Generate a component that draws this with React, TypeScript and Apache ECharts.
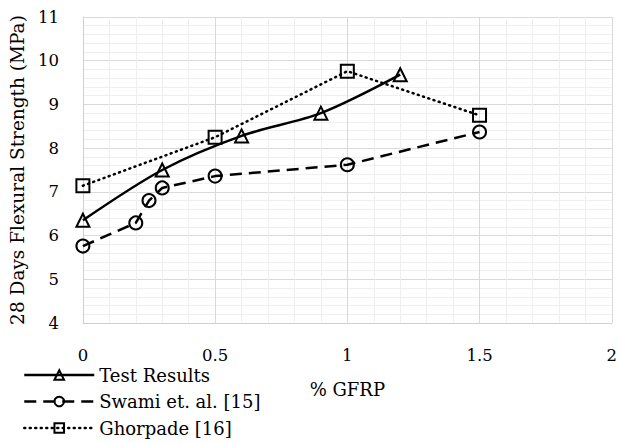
import React, { useEffect, useRef } from "react";
import * as echarts from "echarts";

const testX = [0, 0.3, 0.6, 0.9, 1.2];
const testY = [6.35, 7.5, 8.28, 8.8, 9.68];
const swamiX = [0, 0.2, 0.25, 0.3, 0.5, 1.0, 1.5];
const swamiY = [5.76, 6.29, 6.8, 7.09, 7.36, 7.62, 8.37];
const ghorX = [0, 0.5, 1.0, 1.5];
const ghorY = [7.14, 8.25, 9.76, 8.75];
const xTicks = ["0", "0.5", "1", "1.5", "2"];
const seriesNames = ["Test Results", "Swami et. al. [15]", "Ghorpade [16]"];

const FONT = "DejaVu Serif";

function pairs(xs: number[], ys: number[]) {
  return xs.map((x, i) => [x, ys[i]]);
}

export default function App() {
  const ref = useRef<HTMLDivElement>(null);
  useEffect(() => {
    if (!ref.current) return;
    const chart = echarts.init(ref.current, undefined, { renderer: "svg" });
    const marker = {
      color: "rgba(0,0,0,0)",
      borderColor: "#000",
      borderWidth: 2,
    };
    const styles = [
      { color: "#000", width: 2.5, type: "solid" },
      { color: "#000", width: 2.5, type: [12, 7] },
      { color: "#000", width: 2.5, type: [1, 4.5], cap: "round" },
    ];
    chart.setOption({
      animation: false,
      grid: { left: 77.5, right: 6, top: 17, bottom: 120 },
      xAxis: {
        type: "value",
        min: 0,
        max: 2,
        interval: 0.5,
        name: "% GFRP",
        nameLocation: "middle",
        nameGap: 57,
        nameTextStyle: { fontFamily: FONT, fontSize: 18, color: "#000" },
        axisLine: { show: true, lineStyle: { color: "#d0d0d0", width: 1 } },
        axisTick: { show: false },
        axisLabel: {
          margin: 24,
          fontFamily: FONT,
          fontSize: 16.5,
          color: "#000",
          formatter: (v: number) => {
            const idx = Math.round(v / 0.5);
            return xTicks[idx] ?? String(v);
          },
        },
        splitLine: { show: true, lineStyle: { color: "#d9d9d9", width: 1 } },
        minorTick: { show: false, splitNumber: 5 },
        minorSplitLine: { show: true, lineStyle: { color: "#efefef", width: 1 } },
      },
      yAxis: {
        type: "value",
        min: 4,
        max: 11,
        interval: 1,
        name: "28 Days Flexural Strength (MPa)",
        nameLocation: "middle",
        nameGap: 42,
        nameTextStyle: { fontFamily: FONT, fontSize: 18.5, color: "#000" },
        axisLine: { show: true, lineStyle: { color: "#d0d0d0", width: 1 } },
        axisTick: { show: false },
        axisLabel: { margin: 24, fontFamily: FONT, fontSize: 16.5, color: "#000" },
        splitLine: { show: true, lineStyle: { color: "#d9d9d9", width: 1 } },
        minorTick: { show: false, splitNumber: 5 },
        minorSplitLine: { show: true, lineStyle: { color: "#efefef", width: 1 } },
      },
      legend: {
        orient: "vertical",
        left: 23,
        top: 366,
        padding: 0,
        itemWidth: 70,
        itemHeight: 12,
        itemGap: 8.5,
        textStyle: { fontFamily: FONT, fontSize: 18, color: "#000" },
        data: seriesNames.map((n, i) => ({ name: n, lineStyle: styles[i] })),
      },
      series: [
        {
          name: seriesNames[0],
          type: "line",
          data: pairs(testX, testY),
          smooth: 0.3,
          symbol: "triangle",
          symbolSize: 13,
          itemStyle: marker,
          lineStyle: styles[0],
        },
        {
          name: seriesNames[1],
          type: "line",
          data: pairs(swamiX, swamiY),
          symbol: "circle",
          symbolSize: 13,
          itemStyle: marker,
          lineStyle: styles[1],
        },
        {
          name: seriesNames[2],
          type: "line",
          data: pairs(ghorX, ghorY),
          symbol: "rect",
          symbolSize: 13,
          itemStyle: marker,
          lineStyle: styles[2],
        },
      ],
    });
    return () => chart.dispose();
  }, []);
  return (
    <div
      ref={ref}
      style={{ position: "absolute", left: 0, top: 0, width: 620, height: 443 }}
    />
  );
}
